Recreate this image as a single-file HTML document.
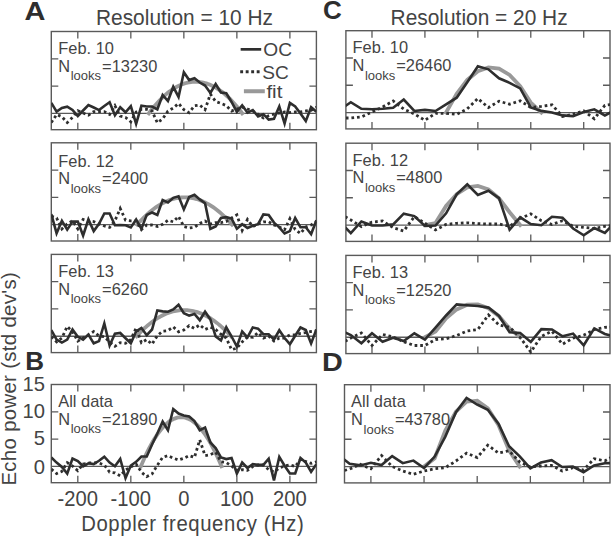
<!DOCTYPE html><html><head><meta charset="utf-8"><style>html,body{margin:0;padding:0;background:#fff;width:613px;height:537px;overflow:hidden}svg{display:block}text{font-family:"Liberation Sans",sans-serif}</style></head><body><svg width="613" height="537" viewBox="0 0 613 537" font-family="Liberation Sans, sans-serif" fill="#444444"><defs><clipPath id="cl0"><rect x="51.3" y="11.5" width="265.10" height="138.2"/></clipPath><clipPath id="cl1"><rect x="51.3" y="122.80000000000001" width="265.10" height="138.2"/></clipPath><clipPath id="cl2"><rect x="51.3" y="234.4" width="265.10" height="138.2"/></clipPath><clipPath id="cl3"><rect x="51.3" y="364.5" width="265.10" height="138.2"/></clipPath><clipPath id="cr0"><rect x="345.9" y="10.7" width="264.10" height="138.2"/></clipPath><clipPath id="cr1"><rect x="345.9" y="123.19999999999999" width="264.10" height="138.2"/></clipPath><clipPath id="cr2"><rect x="345.9" y="235.4" width="264.10" height="138.2"/></clipPath><clipPath id="cr3"><rect x="344.5" y="364.7" width="265.50" height="138.2"/></clipPath></defs><g><rect x="51.3" y="31.5" width="265.10" height="98.2" fill="none" stroke="#5a5a5a" stroke-width="1.4"/><line x1="51.3" y1="113.33" x2="316.4" y2="113.33" stroke="#5a5a5a" stroke-width="1.3"/><path d="M77.81 31.5v7M77.81 129.7v-7" stroke="#5a5a5a" stroke-width="1.3"/><path d="M130.83 31.5v7M130.83 129.7v-7" stroke="#5a5a5a" stroke-width="1.3"/><path d="M183.85 31.5v7M183.85 129.7v-7" stroke="#5a5a5a" stroke-width="1.3"/><path d="M236.87 31.5v7M236.87 129.7v-7" stroke="#5a5a5a" stroke-width="1.3"/><path d="M289.89 31.5v7M289.89 129.7v-7" stroke="#5a5a5a" stroke-width="1.3"/><path d="M51.3 86.06h7M316.4 86.06h-7" stroke="#5a5a5a" stroke-width="1.3"/><path d="M51.3 58.78h7M316.4 58.78h-7" stroke="#5a5a5a" stroke-width="1.3"/><rect x="51.3" y="142.8" width="265.10" height="98.2" fill="none" stroke="#5a5a5a" stroke-width="1.4"/><line x1="51.3" y1="224.63" x2="316.4" y2="224.63" stroke="#5a5a5a" stroke-width="1.3"/><path d="M77.81 142.8v7M77.81 241.0v-7" stroke="#5a5a5a" stroke-width="1.3"/><path d="M130.83 142.8v7M130.83 241.0v-7" stroke="#5a5a5a" stroke-width="1.3"/><path d="M183.85 142.8v7M183.85 241.0v-7" stroke="#5a5a5a" stroke-width="1.3"/><path d="M236.87 142.8v7M236.87 241.0v-7" stroke="#5a5a5a" stroke-width="1.3"/><path d="M289.89 142.8v7M289.89 241.0v-7" stroke="#5a5a5a" stroke-width="1.3"/><path d="M51.3 197.36h7M316.4 197.36h-7" stroke="#5a5a5a" stroke-width="1.3"/><path d="M51.3 170.08h7M316.4 170.08h-7" stroke="#5a5a5a" stroke-width="1.3"/><rect x="51.3" y="254.4" width="265.10" height="98.2" fill="none" stroke="#5a5a5a" stroke-width="1.4"/><line x1="51.3" y1="336.23" x2="316.4" y2="336.23" stroke="#5a5a5a" stroke-width="1.3"/><path d="M77.81 254.4v7M77.81 352.6v-7" stroke="#5a5a5a" stroke-width="1.3"/><path d="M130.83 254.4v7M130.83 352.6v-7" stroke="#5a5a5a" stroke-width="1.3"/><path d="M183.85 254.4v7M183.85 352.6v-7" stroke="#5a5a5a" stroke-width="1.3"/><path d="M236.87 254.4v7M236.87 352.6v-7" stroke="#5a5a5a" stroke-width="1.3"/><path d="M289.89 254.4v7M289.89 352.6v-7" stroke="#5a5a5a" stroke-width="1.3"/><path d="M51.3 308.96h7M316.4 308.96h-7" stroke="#5a5a5a" stroke-width="1.3"/><path d="M51.3 281.68h7M316.4 281.68h-7" stroke="#5a5a5a" stroke-width="1.3"/><rect x="51.3" y="384.5" width="265.10" height="98.2" fill="none" stroke="#5a5a5a" stroke-width="1.4"/><line x1="51.3" y1="466.33" x2="316.4" y2="466.33" stroke="#5a5a5a" stroke-width="1.3"/><path d="M77.81 384.5v7M77.81 482.7v-7" stroke="#5a5a5a" stroke-width="1.3"/><path d="M130.83 384.5v7M130.83 482.7v-7" stroke="#5a5a5a" stroke-width="1.3"/><path d="M183.85 384.5v7M183.85 482.7v-7" stroke="#5a5a5a" stroke-width="1.3"/><path d="M236.87 384.5v7M236.87 482.7v-7" stroke="#5a5a5a" stroke-width="1.3"/><path d="M289.89 384.5v7M289.89 482.7v-7" stroke="#5a5a5a" stroke-width="1.3"/><path d="M51.3 439.06h7M316.4 439.06h-7" stroke="#5a5a5a" stroke-width="1.3"/><path d="M51.3 411.78h7M316.4 411.78h-7" stroke="#5a5a5a" stroke-width="1.3"/><rect x="345.9" y="30.7" width="264.10" height="98.2" fill="none" stroke="#5a5a5a" stroke-width="1.4"/><line x1="345.9" y1="112.53" x2="610.0" y2="112.53" stroke="#5a5a5a" stroke-width="1.3"/><path d="M371.99 30.7v7M371.99 128.9v-7" stroke="#5a5a5a" stroke-width="1.3"/><path d="M424.92 30.7v7M424.92 128.9v-7" stroke="#5a5a5a" stroke-width="1.3"/><path d="M477.85 30.7v7M477.85 128.9v-7" stroke="#5a5a5a" stroke-width="1.3"/><path d="M530.78 30.7v7M530.78 128.9v-7" stroke="#5a5a5a" stroke-width="1.3"/><path d="M583.71 30.7v7M583.71 128.9v-7" stroke="#5a5a5a" stroke-width="1.3"/><path d="M345.9 85.26h7M610.0 85.26h-7" stroke="#5a5a5a" stroke-width="1.3"/><path d="M345.9 57.98h7M610.0 57.98h-7" stroke="#5a5a5a" stroke-width="1.3"/><rect x="345.9" y="143.2" width="264.10" height="98.2" fill="none" stroke="#5a5a5a" stroke-width="1.4"/><line x1="345.9" y1="225.03" x2="610.0" y2="225.03" stroke="#5a5a5a" stroke-width="1.3"/><path d="M371.99 143.2v7M371.99 241.39999999999998v-7" stroke="#5a5a5a" stroke-width="1.3"/><path d="M424.92 143.2v7M424.92 241.39999999999998v-7" stroke="#5a5a5a" stroke-width="1.3"/><path d="M477.85 143.2v7M477.85 241.39999999999998v-7" stroke="#5a5a5a" stroke-width="1.3"/><path d="M530.78 143.2v7M530.78 241.39999999999998v-7" stroke="#5a5a5a" stroke-width="1.3"/><path d="M583.71 143.2v7M583.71 241.39999999999998v-7" stroke="#5a5a5a" stroke-width="1.3"/><path d="M345.9 197.76h7M610.0 197.76h-7" stroke="#5a5a5a" stroke-width="1.3"/><path d="M345.9 170.48h7M610.0 170.48h-7" stroke="#5a5a5a" stroke-width="1.3"/><rect x="345.9" y="255.4" width="264.10" height="98.2" fill="none" stroke="#5a5a5a" stroke-width="1.4"/><line x1="345.9" y1="337.23" x2="610.0" y2="337.23" stroke="#5a5a5a" stroke-width="1.3"/><path d="M371.99 255.4v7M371.99 353.6v-7" stroke="#5a5a5a" stroke-width="1.3"/><path d="M424.92 255.4v7M424.92 353.6v-7" stroke="#5a5a5a" stroke-width="1.3"/><path d="M477.85 255.4v7M477.85 353.6v-7" stroke="#5a5a5a" stroke-width="1.3"/><path d="M530.78 255.4v7M530.78 353.6v-7" stroke="#5a5a5a" stroke-width="1.3"/><path d="M583.71 255.4v7M583.71 353.6v-7" stroke="#5a5a5a" stroke-width="1.3"/><path d="M345.9 309.96h7M610.0 309.96h-7" stroke="#5a5a5a" stroke-width="1.3"/><path d="M345.9 282.68h7M610.0 282.68h-7" stroke="#5a5a5a" stroke-width="1.3"/><rect x="344.5" y="384.7" width="265.50" height="98.2" fill="none" stroke="#5a5a5a" stroke-width="1.4"/><line x1="344.5" y1="466.53" x2="610.0" y2="466.53" stroke="#5a5a5a" stroke-width="1.3"/><path d="M370.90 384.7v7M370.90 482.9v-7" stroke="#5a5a5a" stroke-width="1.3"/><path d="M424.05 384.7v7M424.05 482.9v-7" stroke="#5a5a5a" stroke-width="1.3"/><path d="M477.20 384.7v7M477.20 482.9v-7" stroke="#5a5a5a" stroke-width="1.3"/><path d="M530.35 384.7v7M530.35 482.9v-7" stroke="#5a5a5a" stroke-width="1.3"/><path d="M583.50 384.7v7M583.50 482.9v-7" stroke="#5a5a5a" stroke-width="1.3"/><path d="M344.5 439.26h7M610.0 439.26h-7" stroke="#5a5a5a" stroke-width="1.3"/><path d="M344.5 411.98h7M610.0 411.98h-7" stroke="#5a5a5a" stroke-width="1.3"/><g clip-path="url(#cl0)"><polyline points="148.86,113.33 150.41,111.26 151.97,109.26 153.52,107.32 155.08,105.46 156.63,103.66 158.19,101.94 159.74,100.29 161.30,98.71 162.85,97.20 164.41,95.75 165.96,94.38 167.52,93.08 169.08,91.85 170.63,90.69 172.19,89.60 173.74,88.58 175.30,87.63 176.85,86.75 178.41,85.95 179.96,85.21 181.52,84.54 183.07,83.94 184.63,83.41 186.18,82.96 187.74,82.57 189.29,82.25 190.85,82.01 192.40,81.83 193.96,81.73 195.51,81.69 197.07,81.73 198.62,81.83 200.18,82.01 201.74,82.25 203.29,82.57 204.85,82.96 206.40,83.41 207.96,83.94 209.51,84.54 211.07,85.21 212.62,85.95 214.18,86.75 215.73,87.63 217.29,88.58 218.84,89.60 220.40,90.69 221.95,91.85 223.51,93.08 225.06,94.38 226.62,95.75 228.17,97.20 229.73,98.71 231.29,100.29 232.84,101.94 234.40,103.66 235.95,105.46 237.51,107.32 239.06,109.26 240.62,111.26 242.17,113.33" fill="none" stroke="#999999" stroke-width="3.8" stroke-linecap="square"/><polyline points="51.30,122.60 56.60,114.50 61.90,116.70 67.21,122.60 72.51,117.40 77.81,110.80 83.11,113.00 88.41,115.20 93.72,111.60 99.02,111.60 104.32,111.60 109.62,114.50 114.92,105.70 120.23,116.00 125.53,117.40 130.83,121.80 136.13,112.00 141.43,109.30 146.74,109.30 152.04,111.00 157.34,122.80 162.64,118.90 167.94,111.10 173.25,108.00 178.55,103.40 183.85,109.60 189.15,112.70 194.45,105.70 199.76,105.00 205.06,109.60 210.36,94.10 215.66,101.50 220.96,103.40 226.27,105.60 231.57,111.00 236.87,109.00 242.17,107.20 247.47,109.00 252.78,111.00 258.08,114.20 263.38,118.00 268.68,115.70 273.98,114.20 279.29,113.00 284.59,112.00 289.89,112.60 295.19,112.00 300.49,111.80 305.80,111.00 311.10,110.30 316.40,107.20" fill="none" stroke="#2e2e2e" stroke-width="2.8" stroke-dasharray="2.7 2.9" stroke-linecap="butt"/><polyline points="51.30,102.80 56.60,111.60 61.90,107.90 67.21,106.70 72.51,110.00 77.81,116.00 83.11,110.50 88.41,105.00 93.72,107.50 99.02,110.10 104.32,106.00 109.62,102.30 114.92,115.20 120.23,107.20 125.53,112.30 130.83,106.10 136.13,123.80 141.43,105.70 146.74,106.50 152.04,106.50 157.34,109.30 162.64,95.00 167.94,101.00 173.25,86.80 178.55,96.90 183.85,72.30 189.15,80.10 194.45,78.30 199.76,82.50 205.06,85.60 210.36,92.90 215.66,84.00 220.96,92.50 226.27,93.30 231.57,102.00 236.87,111.80 242.17,105.30 247.47,112.60 252.78,110.00 258.08,116.50 263.38,114.20 268.68,119.60 273.98,118.80 279.29,106.40 284.59,123.50 289.89,102.90 295.19,106.40 300.49,113.40 305.80,121.10 311.10,107.20 316.40,111.80" fill="none" stroke="#2e2e2e" stroke-width="2.6" stroke-linejoin="miter" stroke-miterlimit="4"/></g><g clip-path="url(#cl1)"><polyline points="137.19,224.63 138.77,222.85 140.36,221.12 141.94,219.45 143.52,217.84 145.10,216.30 146.68,214.81 148.26,213.39 149.85,212.02 151.43,210.72 153.01,209.48 154.59,208.30 156.17,207.18 157.76,206.11 159.34,205.11 160.92,204.18 162.50,203.30 164.08,202.48 165.66,201.72 167.25,201.02 168.83,200.39 170.41,199.81 171.99,199.30 173.57,198.84 175.15,198.45 176.74,198.11 178.32,197.84 179.90,197.63 181.48,197.48 183.06,197.39 184.65,197.36 186.23,197.39 187.81,197.48 189.39,197.63 190.97,197.84 192.55,198.11 194.14,198.45 195.72,198.84 197.30,199.30 198.88,199.81 200.46,200.39 202.04,201.02 203.63,201.72 205.21,202.48 206.79,203.30 208.37,204.18 209.95,205.11 211.54,206.11 213.12,207.18 214.70,208.30 216.28,209.48 217.86,210.72 219.44,212.02 221.03,213.39 222.61,214.81 224.19,216.30 225.77,217.84 227.35,219.45 228.93,221.12 230.52,222.85 232.10,224.63" fill="none" stroke="#999999" stroke-width="3.8" stroke-linecap="square"/><polyline points="51.30,216.00 56.60,218.00 61.90,228.90 67.21,224.00 72.51,220.80 77.81,228.90 83.11,219.40 88.41,221.00 93.72,221.60 99.02,224.00 104.32,226.00 109.62,227.40 114.92,220.80 120.23,208.50 125.53,220.10 130.83,220.80 136.13,220.80 141.43,229.60 146.74,225.00 152.04,225.00 157.34,226.50 162.64,224.20 167.94,220.30 173.25,221.80 178.55,216.40 183.85,226.50 189.15,228.00 194.45,227.30 199.76,223.40 205.06,221.00 210.36,224.20 215.66,222.60 220.96,222.60 226.27,221.50 231.57,218.00 236.87,214.90 242.17,230.40 247.47,219.50 252.78,226.50 258.08,224.00 263.38,221.80 268.68,221.80 273.98,225.00 279.29,227.00 284.59,229.60 289.89,218.70 295.19,229.60 300.49,233.50 305.80,227.00 311.10,225.00 316.40,221.80" fill="none" stroke="#2e2e2e" stroke-width="2.8" stroke-dasharray="2.7 2.9" stroke-linecap="butt"/><polyline points="51.30,214.20 56.60,233.30 61.90,220.80 67.21,229.60 72.51,221.60 77.81,221.60 83.11,235.50 88.41,219.40 93.72,231.10 99.02,223.80 104.32,213.50 109.62,213.50 114.92,225.20 120.23,225.00 125.53,225.20 130.83,227.40 136.13,219.50 141.43,228.80 146.74,214.90 152.04,212.50 157.34,214.90 162.64,200.10 167.94,202.50 173.25,197.80 178.55,196.30 183.85,209.40 189.15,197.00 194.45,194.70 199.76,199.40 205.06,203.20 210.36,228.80 215.66,226.50 220.96,218.00 226.27,217.20 231.57,218.70 236.87,228.80 242.17,224.20 247.47,228.00 252.78,225.70 258.08,224.20 263.38,214.40 268.68,214.90 273.98,222.60 279.29,227.30 284.59,233.50 289.89,231.10 295.19,218.00 300.49,227.30 305.80,227.30 311.10,234.20 316.40,220.30" fill="none" stroke="#2e2e2e" stroke-width="2.6" stroke-linejoin="miter" stroke-miterlimit="4"/></g><g clip-path="url(#cl2)"><polyline points="136.66,336.23 138.24,334.52 139.81,332.86 141.38,331.26 142.95,329.72 144.53,328.23 146.10,326.81 147.67,325.44 149.25,324.13 150.82,322.88 152.39,321.69 153.96,320.55 155.54,319.47 157.11,318.46 158.68,317.50 160.26,316.59 161.83,315.75 163.40,314.96 164.97,314.24 166.55,313.57 168.12,312.96 169.69,312.40 171.27,311.91 172.84,311.47 174.41,311.09 175.99,310.77 177.56,310.51 179.13,310.31 180.70,310.16 182.28,310.08 183.85,310.05 185.42,310.08 187.00,310.16 188.57,310.31 190.14,310.51 191.71,310.77 193.29,311.09 194.86,311.47 196.43,311.91 198.01,312.40 199.58,312.96 201.15,313.57 202.73,314.24 204.30,314.96 205.87,315.75 207.44,316.59 209.02,317.50 210.59,318.46 212.16,319.47 213.74,320.55 215.31,321.69 216.88,322.88 218.45,324.13 220.03,325.44 221.60,326.81 223.17,328.23 224.75,329.72 226.32,331.26 227.89,332.86 229.46,334.52 231.04,336.23" fill="none" stroke="#999999" stroke-width="3.8" stroke-linecap="square"/><polyline points="51.30,336.70 56.60,341.90 61.90,338.00 67.21,326.40 72.51,331.60 77.81,341.10 83.11,338.00 88.41,335.00 93.72,331.60 99.02,336.00 104.32,336.70 109.62,341.90 114.92,346.30 120.23,342.60 125.53,343.30 130.83,339.60 136.13,327.90 141.43,342.70 146.74,339.60 152.04,344.20 157.34,335.70 162.64,331.10 167.94,330.60 173.25,326.90 178.55,331.80 183.85,330.00 189.15,325.60 194.45,328.40 199.76,324.90 205.06,329.50 210.36,327.20 215.66,329.50 220.96,334.20 226.27,338.00 231.57,349.70 236.87,348.10 242.17,341.90 247.47,337.00 252.78,337.30 258.08,332.60 263.38,338.00 268.68,336.00 273.98,341.10 279.29,338.00 284.59,338.00 289.89,335.00 295.19,335.00 300.49,333.40 305.80,332.60 311.10,331.50 316.40,331.00" fill="none" stroke="#2e2e2e" stroke-width="2.8" stroke-dasharray="2.7 2.9" stroke-linecap="butt"/><polyline points="51.30,330.10 56.60,339.60 61.90,342.60 67.21,339.60 72.51,329.40 77.81,336.70 83.11,339.60 88.41,334.50 93.72,343.30 99.02,341.10 104.32,323.50 109.62,345.50 114.92,333.80 120.23,333.00 125.53,338.20 130.83,343.30 136.13,331.50 141.43,328.00 146.74,335.20 152.04,329.50 157.34,310.50 162.64,311.40 167.94,311.70 173.25,309.40 178.55,304.70 183.85,313.20 189.15,315.60 194.45,314.00 199.76,320.20 205.06,311.70 210.36,319.40 215.66,336.50 220.96,340.40 226.27,327.20 231.57,336.50 236.87,346.60 242.17,331.50 247.47,337.30 252.78,327.50 258.08,328.70 263.38,334.20 268.68,334.20 273.98,339.60 279.29,330.30 284.59,338.00 289.89,344.20 295.19,335.70 300.49,327.50 305.80,330.00 311.10,343.50 316.40,329.50" fill="none" stroke="#2e2e2e" stroke-width="2.6" stroke-linejoin="miter" stroke-miterlimit="4"/></g><g clip-path="url(#cl3)"><polyline points="140.90,466.33 142.25,463.11 143.59,460.00 144.93,457.00 146.28,454.11 147.62,451.33 148.96,448.66 150.31,446.09 151.65,443.64 152.99,441.29 154.34,439.06 155.68,436.93 157.02,434.91 158.37,433.00 159.71,431.20 161.05,429.51 162.39,427.93 163.74,426.45 165.08,425.09 166.42,423.83 167.77,422.69 169.11,421.65 170.45,420.72 171.80,419.91 173.14,419.20 174.48,418.60 175.83,418.11 177.17,417.72 178.51,417.45 179.86,417.29 181.20,417.23 182.54,417.29 183.89,417.45 185.23,417.72 186.57,418.11 187.91,418.60 189.26,419.20 190.60,419.91 191.94,420.72 193.29,421.65 194.63,422.69 195.97,423.83 197.32,425.09 198.66,426.45 200.00,427.93 201.35,429.51 202.69,431.20 204.03,433.00 205.38,434.91 206.72,436.93 208.06,439.06 209.41,441.29 210.75,443.64 212.09,446.09 213.44,448.66 214.78,451.33 216.12,454.11 217.46,457.00 218.81,460.00 220.15,463.11 221.49,466.33" fill="none" stroke="#999999" stroke-width="3.8" stroke-linecap="square"/><polyline points="51.30,469.20 56.60,473.60 61.90,471.40 67.21,462.60 72.51,466.00 77.81,470.70 83.11,464.00 88.41,463.00 93.72,462.60 99.02,463.00 104.32,465.00 109.62,472.10 114.92,472.90 120.23,475.80 125.53,470.00 130.83,467.00 136.13,464.00 141.43,472.20 146.74,476.60 152.04,474.00 157.34,465.20 162.64,457.40 167.94,455.60 173.25,458.20 178.55,460.00 183.85,458.20 189.15,455.60 194.45,457.40 199.76,439.90 205.06,455.60 210.36,454.70 215.66,452.10 220.96,461.70 226.27,462.60 231.57,466.00 236.87,470.40 242.17,469.60 247.47,470.40 252.78,466.50 258.08,465.00 263.38,465.00 268.68,469.60 273.98,471.90 279.29,468.00 284.59,466.00 289.89,464.90 295.19,466.50 300.49,459.50 305.80,461.50 311.10,463.40 316.40,461.80" fill="none" stroke="#2e2e2e" stroke-width="2.8" stroke-dasharray="2.7 2.9" stroke-linecap="butt"/><polyline points="51.30,457.40 56.60,462.60 61.90,467.00 67.21,473.60 72.51,458.50 77.81,461.10 83.11,466.30 88.41,463.30 93.72,464.10 99.02,460.80 104.32,456.70 109.62,462.60 114.92,466.30 120.23,458.90 125.53,478.00 130.83,465.50 136.13,461.80 141.43,456.50 146.74,456.50 152.04,444.50 157.34,433.50 162.64,421.50 167.94,430.20 173.25,409.00 178.55,413.60 183.85,415.40 189.15,416.50 194.45,421.00 199.76,430.20 205.06,427.60 210.36,442.50 215.66,448.00 220.96,457.40 226.27,459.10 231.57,458.00 236.87,473.50 242.17,462.60 247.47,468.00 252.78,464.20 258.08,464.90 263.38,464.90 268.68,458.70 273.98,480.40 279.29,456.90 284.59,465.70 289.89,473.50 295.19,473.50 300.49,458.00 305.80,462.60 311.10,471.90 316.40,464.20" fill="none" stroke="#2e2e2e" stroke-width="2.6" stroke-linejoin="miter" stroke-miterlimit="4"/></g><g clip-path="url(#cr0)"><polyline points="446.09,112.53 456.68,93.73 467.26,79.94 477.85,71.17 488.44,67.41 499.02,68.66 509.61,74.93 520.19,86.21 530.78,102.51 541.37,112.53" fill="none" stroke="#999999" stroke-width="3.8" stroke-linecap="square"/><polyline points="340.23,118.00 350.82,118.00 361.40,117.00 371.99,112.00 382.58,107.00 393.16,101.00 403.75,109.00 414.33,114.00 424.92,120.30 435.51,113.30 446.09,113.30 456.68,114.40 467.26,108.80 477.85,98.50 488.44,107.50 499.02,101.20 509.61,104.20 520.19,100.80 530.78,107.50 541.37,106.40 551.95,104.80 562.54,116.50 573.12,114.30 583.71,110.90 594.30,118.80 604.88,105.30 615.47,104.00" fill="none" stroke="#2e2e2e" stroke-width="2.8" stroke-dasharray="2.7 2.9" stroke-linecap="butt"/><polyline points="340.23,109.50 350.82,102.20 361.40,108.80 371.99,109.30 382.58,108.80 393.16,107.70 403.75,99.50 414.33,111.00 424.92,109.90 435.51,111.00 446.09,104.40 456.68,97.70 467.26,82.20 477.85,66.30 488.44,69.30 499.02,78.30 509.61,82.80 520.19,88.40 530.78,107.50 541.37,110.90 551.95,112.50 562.54,115.40 573.12,116.10 583.71,112.00 594.30,109.30 604.88,115.40 615.47,110.00" fill="none" stroke="#2e2e2e" stroke-width="2.6" stroke-linejoin="miter" stroke-miterlimit="4"/></g><g clip-path="url(#cr1)"><polyline points="424.92,225.03 435.51,223.04 446.09,206.00 456.68,194.12 467.26,187.41 477.85,185.86 488.44,189.47 499.02,198.25 509.61,212.20 520.19,225.03" fill="none" stroke="#999999" stroke-width="3.8" stroke-linecap="square"/><polyline points="340.23,214.00 350.82,220.00 361.40,226.60 371.99,222.10 382.58,221.00 393.16,227.70 403.75,231.00 414.33,216.60 424.92,223.30 435.51,229.90 446.09,224.40 456.68,223.30 467.26,222.80 477.85,223.60 488.44,224.00 499.02,224.00 509.61,226.30 520.19,218.40 530.78,213.90 541.37,220.70 551.95,224.50 562.54,220.70 573.12,226.30 583.71,227.40 594.30,228.50 604.88,226.30 615.47,225.00" fill="none" stroke="#2e2e2e" stroke-width="2.8" stroke-dasharray="2.7 2.9" stroke-linecap="butt"/><polyline points="340.23,222.20 350.82,233.20 361.40,221.50 371.99,225.50 382.58,225.50 393.16,224.40 403.75,213.70 414.33,216.10 424.92,225.90 435.51,225.50 446.09,213.30 456.68,194.40 467.26,184.40 477.85,195.00 488.44,190.70 499.02,198.10 509.61,229.70 520.19,217.30 530.78,224.00 541.37,225.20 551.95,216.80 562.54,217.70 573.12,228.50 583.71,235.30 594.30,228.10 604.88,233.00 615.47,222.00" fill="none" stroke="#2e2e2e" stroke-width="2.6" stroke-linejoin="miter" stroke-miterlimit="4"/></g><g clip-path="url(#cr2)"><polyline points="424.92,337.23 435.51,331.60 446.09,318.37 456.68,309.41 467.26,304.72 477.85,304.30 488.44,308.13 499.02,316.24 509.61,328.61 520.19,337.23" fill="none" stroke="#999999" stroke-width="3.8" stroke-linecap="square"/><polyline points="340.23,344.00 350.82,338.00 361.40,333.00 371.99,345.50 382.58,334.40 393.16,337.00 403.75,341.70 414.33,345.50 424.92,345.50 435.51,339.50 446.09,338.80 456.68,335.50 467.26,331.00 477.85,329.50 488.44,314.90 499.02,325.00 509.61,327.30 520.19,337.40 530.78,352.00 541.37,336.30 551.95,331.30 562.54,344.20 573.12,338.10 583.71,335.20 594.30,329.50 604.88,327.30 615.47,327.00" fill="none" stroke="#2e2e2e" stroke-width="2.8" stroke-dasharray="2.7 2.9" stroke-linecap="butt"/><polyline points="340.23,330.20 350.82,335.00 361.40,343.20 371.99,333.30 382.58,341.70 393.16,337.70 403.75,341.00 414.33,333.30 424.92,339.50 435.51,327.70 446.09,315.50 456.68,304.40 467.26,305.20 477.85,306.00 488.44,307.60 499.02,316.00 509.61,332.20 520.19,332.90 530.78,341.90 541.37,329.10 551.95,329.50 562.54,336.30 573.12,333.60 583.71,345.30 594.30,328.40 604.88,334.00 615.47,337.00" fill="none" stroke="#2e2e2e" stroke-width="2.6" stroke-linejoin="miter" stroke-miterlimit="4"/></g><g clip-path="url(#cr3)"><polyline points="424.05,466.53 434.68,458.22 445.31,430.52 455.94,411.68 466.57,401.71 477.20,400.60 487.83,408.36 498.46,424.98 509.09,450.47 519.72,466.53" fill="none" stroke="#999999" stroke-width="3.8" stroke-linecap="square"/><polyline points="339.01,472.00 349.64,469.00 360.27,464.30 370.90,468.80 381.53,455.50 392.16,466.50 402.79,471.00 413.42,474.30 424.05,471.00 434.68,468.80 445.31,467.70 455.94,461.00 466.57,453.20 477.20,457.50 487.83,445.20 498.46,453.00 509.09,450.80 519.72,462.00 530.35,467.00 540.98,466.00 551.61,465.40 562.24,471.00 572.87,467.70 583.50,470.00 594.13,458.70 604.76,460.90 615.39,455.00" fill="none" stroke="#2e2e2e" stroke-width="2.8" stroke-dasharray="2.7 2.9" stroke-linecap="butt"/><polyline points="339.01,455.50 349.64,463.70 360.27,465.40 370.90,462.80 381.53,465.00 392.16,456.10 402.79,463.20 413.42,460.60 424.05,468.10 434.68,456.60 445.31,436.60 455.94,412.20 466.57,398.00 477.20,404.50 487.83,409.80 498.46,423.80 509.09,446.30 519.72,456.40 530.35,468.30 540.98,462.50 551.61,460.20 562.24,467.00 572.87,466.50 583.50,472.20 594.13,465.40 604.76,463.20 615.39,463.00" fill="none" stroke="#2e2e2e" stroke-width="2.6" stroke-linejoin="miter" stroke-miterlimit="4"/></g><text x="24.6" y="20.1" font-size="26" font-weight="bold" text-anchor="start" fill="#2e2e2e" textLength="20.9" lengthAdjust="spacingAndGlyphs">A</text><text x="322.9" y="18.9" font-size="26" font-weight="bold" text-anchor="start" fill="#2e2e2e">C</text><text x="25.3" y="369.7" font-size="26" font-weight="bold" text-anchor="start" fill="#2e2e2e">B</text><text x="322.0" y="370.8" font-size="26" font-weight="bold" text-anchor="start" fill="#2e2e2e" textLength="20.8" lengthAdjust="spacingAndGlyphs">D</text><text x="96" y="24.6" font-size="20.9" font-weight="normal" text-anchor="start" transform="matrix(1 0 0 1.07 0 -1.722)">Resolution = 10 Hz</text><text x="390.6" y="24.6" font-size="20.9" font-weight="normal" text-anchor="start" transform="matrix(1 0 0 1.07 0 -1.722)">Resolution = 20 Hz</text><text x="58.3" y="53.9" font-size="16.4" font-weight="normal" text-anchor="start" >Feb. 10</text><text x="58.3" y="71.7" font-size="16.4">N<tspan dx="0.6" dy="8.6" font-size="13.0">looks</tspan><tspan dx="1.0" dy="-8.6" font-size="16.4">=13230</tspan></text><text x="58.3" y="166.50000000000003" font-size="16.4" font-weight="normal" text-anchor="start" >Feb. 12</text><text x="58.3" y="184.3" font-size="16.4">N<tspan dx="0.6" dy="8.6" font-size="13.0">looks</tspan><tspan dx="1.0" dy="-8.6" font-size="16.4">=2400</tspan></text><text x="58.3" y="276.8" font-size="16.4" font-weight="normal" text-anchor="start" >Feb. 13</text><text x="58.3" y="294.6" font-size="16.4">N<tspan dx="0.6" dy="8.6" font-size="13.0">looks</tspan><tspan dx="1.0" dy="-8.6" font-size="16.4">=6260</tspan></text><text x="58.3" y="406.9" font-size="16.4" font-weight="normal" text-anchor="start" >All data</text><text x="58.3" y="424.7" font-size="16.4">N<tspan dx="0.6" dy="8.6" font-size="13.0">looks</tspan><tspan dx="1.0" dy="-8.6" font-size="16.4">=21890</tspan></text><text x="352.5" y="53.099999999999994" font-size="16.4" font-weight="normal" text-anchor="start" >Feb. 10</text><text x="352.5" y="70.9" font-size="16.4">N<tspan dx="0.6" dy="8.6" font-size="13.0">looks</tspan><tspan dx="1.0" dy="-8.6" font-size="16.4">=26460</tspan></text><text x="352.5" y="165.6" font-size="16.4" font-weight="normal" text-anchor="start" >Feb. 12</text><text x="352.5" y="183.4" font-size="16.4">N<tspan dx="0.6" dy="8.6" font-size="13.0">looks</tspan><tspan dx="1.0" dy="-8.6" font-size="16.4">=4800</tspan></text><text x="352.5" y="277.8" font-size="16.4" font-weight="normal" text-anchor="start" >Feb. 13</text><text x="352.5" y="295.6" font-size="16.4">N<tspan dx="0.6" dy="8.6" font-size="13.0">looks</tspan><tspan dx="1.0" dy="-8.6" font-size="16.4">=12520</tspan></text><text x="351.1" y="407.09999999999997" font-size="16.4" font-weight="normal" text-anchor="start" >All data</text><text x="351.1" y="424.9" font-size="16.4">N<tspan dx="0.6" dy="8.6" font-size="13.0">looks</tspan><tspan dx="1.0" dy="-8.6" font-size="16.4">=43780</tspan></text><path d="M240.65 49.35H261.2" stroke="#2e2e2e" stroke-width="2.7"/><path d="M240.2 71.8H259.7" stroke="#2e2e2e" stroke-width="3.0" stroke-dasharray="2.9 2.6"/><path d="M243.9 91.25H264.8" stroke="#999999" stroke-width="4.0"/><text x="263.3" y="56.1" font-size="18.2" font-weight="normal" text-anchor="start" textLength="28.7" lengthAdjust="spacingAndGlyphs">OC</text><text x="262.3" y="78.7" font-size="18.2" font-weight="normal" text-anchor="start" textLength="26.5" lengthAdjust="spacingAndGlyphs">SC</text><text x="266.4" y="97.6" font-size="18.2" font-weight="normal" text-anchor="start" textLength="16" lengthAdjust="spacingAndGlyphs">fit</text><text x="44.9" y="390.5" font-size="20.2" font-weight="normal" text-anchor="end" >15</text><text x="44.9" y="417.9" font-size="20.2" font-weight="normal" text-anchor="end" >10</text><text x="44.9" y="444.8" font-size="20.2" font-weight="normal" text-anchor="end" >5</text><text x="44.9" y="473.9" font-size="20.2" font-weight="normal" text-anchor="end" >0</text><text x="77.81" y="505.6" font-size="20.2" font-weight="normal" text-anchor="middle" transform="matrix(1 0 0 1.065 0 -32.864)">-200</text><text x="130.83" y="505.6" font-size="20.2" font-weight="normal" text-anchor="middle" transform="matrix(1 0 0 1.065 0 -32.864)">-100</text><text x="183.85" y="505.6" font-size="20.2" font-weight="normal" text-anchor="middle" transform="matrix(1 0 0 1.065 0 -32.864)">0</text><text x="236.87" y="505.6" font-size="20.2" font-weight="normal" text-anchor="middle" transform="matrix(1 0 0 1.065 0 -32.864)">100</text><text x="289.89" y="505.6" font-size="20.2" font-weight="normal" text-anchor="middle" transform="matrix(1 0 0 1.065 0 -32.864)">200</text><text x="192.5" y="531.4" font-size="20.3" font-weight="normal" text-anchor="middle" textLength="222.6" lengthAdjust="spacing" transform="matrix(1 0 0 1.06 0 -31.884)">Doppler frequency (Hz)</text><text x="0" y="0" font-size="20.3" text-anchor="middle" textLength="213.3" lengthAdjust="spacing" transform="translate(16.4 378.9) rotate(-90) scale(1 1.03)">Echo power (std dev's)</text></g></svg></body></html>
